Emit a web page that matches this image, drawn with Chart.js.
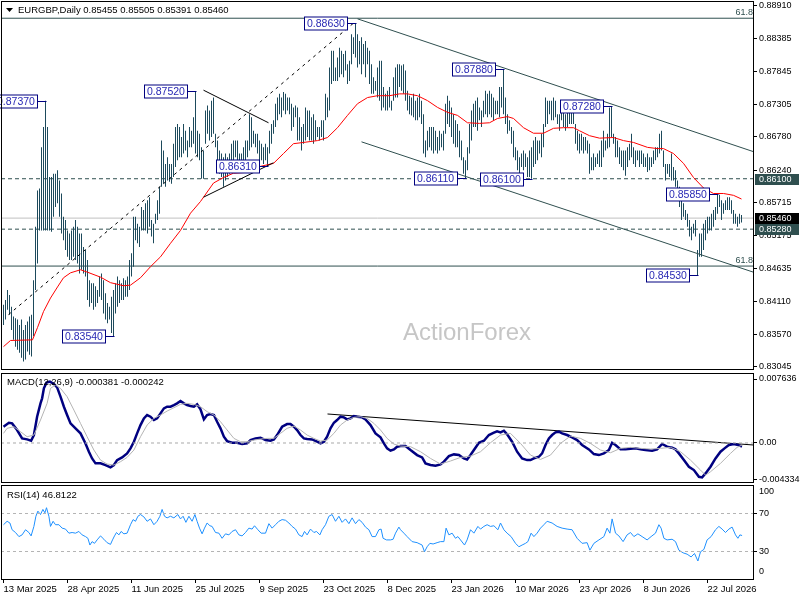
<!DOCTYPE html>
<html><head><meta charset="utf-8">
<script src="https://cdn.jsdelivr.net/npm/chart.js@4.4.1/dist/chart.umd.min.js"></script>
<style>
html,body{margin:0;padding:0;background:#fff;}
body{width:800px;height:600px;position:relative;overflow:hidden;}
canvas{position:absolute;left:0;}
</style></head>
<body>
<canvas id="c1" width="800" height="372" style="top:0px"></canvas>
<canvas id="c2" width="800" height="112" style="top:372px"></canvas>
<canvas id="c3" width="800" height="116" style="top:484px"></canvas>
<script>
// ---------------- DATA ----------------
const symbolName = 'EURGBP,Daily';
const lastOHLC = [0.85455, 0.85505, 0.85391, 0.85460];
// daily highs / lows in pips (x 1e-4), bar index 0 = 13 Mar 2025
const highs = [
8405,8413,8429,8421,8402,8386,8383,8381,8372,8381,
8364,8372,8378,8386,8389,8445,8532,8591,8594,8661,
8694,8737,8694,8613,8613,8618,8618,8624,8607,8586,
8548,8543,8526,8521,8526,8532,8543,8532,8521,8521,
8499,8494,8478,8445,8440,8440,8435,8429,8451,8456,
8445,8424,8408,8402,8418,8429,8440,8451,8445,8440,
8448,8445,8451,8478,8489,8548,8548,8537,8532,8564,
8559,8570,8575,8580,8543,8537,8553,8575,8597,8672,
8656,8634,8645,8634,8634,8667,8694,8699,8694,8678,
8699,8688,8672,8694,8688,8710,8752,8688,8683,8661,
8656,8721,8729,8721,8737,8742,8683,8672,8656,8651,
8645,8651,8645,8651,8667,8672,8672,8672,8651,8651,
8661,8672,8672,8715,8710,8688,8683,8683,8672,8667,
8661,8667,8661,8688,8699,8705,8732,8742,8748,8742,
8751,8748,8742,8742,8732,8726,8729,8726,8710,8694,
8699,8726,8721,8721,8710,8715,8705,8694,8694,8705,
8705,8748,8742,8791,8818,8818,8791,8807,8823,8818,
8813,8818,8796,8802,8845,8840,8863,8845,8834,8840,
8829,8834,8823,8818,8796,8775,8769,8791,8802,8802,
8759,8748,8753,8759,8737,8775,8791,8796,8796,8794,
8796,8786,8753,8745,8742,8748,8737,8742,8748,8737,
8715,8672,8688,8694,8694,8694,8688,8678,8688,8683,
8688,8732,8745,8737,8726,8715,8705,8699,8688,8672,
8645,8640,8661,8699,8721,8732,8737,8742,8726,8721,
8737,8753,8748,8753,8748,8742,8737,8737,8759,8759,
8788,8742,8715,8705,8694,8688,8661,8656,8645,8651,
8656,8651,8645,8656,8661,8672,8678,8672,8672,8683,
8699,8742,8737,8737,8737,8742,8737,8715,8715,8726,
8721,8715,8721,8721,8721,8726,8699,8688,8683,8683,
8678,8678,8672,8667,8645,8651,8645,8651,8656,8672,
8688,8672,8683,8726,8728,8683,8678,8672,8661,8656,
8656,8656,8661,8667,8683,8661,8656,8656,8656,8656,
8651,8645,8651,8645,8645,8656,8661,8661,8683,8688,
8656,8634,8634,8634,8651,8629,8624,8607,8597,8580,
8570,8559,8553,8543,8532,8537,8543,8494,8521,8521,
8537,8543,8548,8548,8553,8559,8564,8585,8584,8575,
8570,8575,8580,8580,8575,8559,8553,8548,8553,8551];
const lows = [
8372,8381,8397,8389,8364,8348,8337,8332,8327,8319,
8313,8316,8329,8324,8321,8354,8429,8472,8526,8526,
8526,8526,8526,8526,8524,8548,8564,8570,8548,8521,
8510,8494,8483,8478,8478,8483,8478,8472,8456,8462,
8456,8451,8413,8402,8408,8397,8402,8408,8418,8413,
8391,8381,8375,8381,8359,8354,8391,8402,8408,8413,
8413,8418,8418,8429,8451,8467,8510,8505,8499,8526,
8526,8526,8521,8532,8516,8505,8537,8543,8553,8597,
8602,8597,8607,8605,8602,8613,8629,8640,8645,8645,
8651,8656,8645,8661,8661,8667,8651,8645,8640,8610,
8610,8667,8683,8672,8678,8683,8661,8629,8618,8613,
8597,8607,8613,8618,8629,8629,8645,8634,8624,8629,
8634,8640,8645,8656,8661,8667,8661,8651,8640,8640,
8634,8640,8631,8651,8667,8683,8694,8705,8715,8710,
8721,8715,8721,8715,8688,8694,8710,8672,8672,8656,
8667,8672,8678,8672,8672,8667,8672,8678,8672,8678,
8672,8705,8710,8721,8764,8769,8769,8769,8775,8780,
8775,8786,8764,8769,8796,8813,8807,8791,8796,8780,
8796,8775,8796,8764,8748,8748,8753,8742,8737,8721,
8726,8721,8721,8726,8721,8737,8742,8742,8759,8753,
8748,8737,8721,8715,8713,8710,8705,8705,8710,8699,
8651,8645,8656,8661,8656,8651,8656,8651,8656,8661,
8656,8683,8699,8694,8678,8667,8661,8661,8645,8640,
8618,8611,8624,8651,8672,8694,8694,8688,8705,8694,
8710,8715,8710,8715,8710,8705,8715,8715,8710,8726,
8715,8699,8683,8688,8667,8645,8640,8624,8618,8629,
8624,8629,8613,8613,8610,8629,8634,8640,8651,8645,
8661,8694,8699,8715,8705,8705,8710,8699,8688,8705,
8694,8688,8694,8699,8699,8699,8667,8656,8651,8656,
8651,8656,8651,8618,8624,8624,8629,8634,8629,8629,
8645,8656,8659,8661,8678,8667,8645,8645,8634,8629,
8624,8615,8629,8640,8645,8634,8629,8640,8629,8634,
8629,8629,8621,8624,8629,8634,8640,8645,8651,8656,
8629,8607,8618,8613,8607,8607,8597,8575,8564,8543,
8548,8543,8532,8516,8510,8521,8516,8453,8483,8483,
8494,8510,8521,8526,8526,8532,8543,8553,8564,8543,
8553,8559,8559,8559,8553,8537,8537,8532,8537,8539];
// moving average (red) [bar, pips]
const maLine = [[0,8337],[3.5,8347],[14.5,8348],[17,8368],[20,8394],[23.5,8416],[27,8434],[30,8449],[33.5,8457],[38.5,8462],
[42,8458],[48.5,8450],[53.5,8441],[60,8436],[63.5,8437],[68.5,8449],[73.5,8467],[78.5,8483],[83.5,8505],[88.5,8526],
[93.5,8554],[98.5,8573],[105,8603],[110,8612],[115,8619],[120,8620],[127,8629],[135,8635],[140,8651],[145,8667],
[150,8669],[157,8672],[162,8677],[167,8693],[172,8713],[177,8732],[182,8742],[187,8745],[193,8745],[198,8748],
[202,8748],[207,8745],[212,8737],[217,8726],[222,8718],[227,8713],[232,8701],[238,8700],[243,8701],[247,8708],
[252,8711],[255,8708],[260,8693],[265,8684],[270,8684],[275,8692],[280,8693],[285,8693],[288,8688],[293,8680],
[298,8676],[305,8677],[310,8672],[315,8669],[322,8661],[327,8659],[330,8659],[335,8651],[340,8635],[345,8612],
[350,8595],[355,8586],[360,8586],[365,8583],[369,8577]];
// levels
const dashedLevels = [0.8610, 0.8528];
const currentPrice = 0.8546;
const fibLevels = [0.8871, 0.8468];
// trend lines [bar, price]
const channelUpper = [[177,0.8870],[375,0.8654]];
const channelLower = [[179,0.8670],[375,0.8458]];
const dottedTrend = [[2.5,0.8389],[175,0.8863]];
const triUpper = [[100,0.8754],[132.5,0.8701]];
const triLower = [[100,0.8580],[135,0.8636]];
// pivot labels
const pivotBars = [21,55,96,132,176,231,250,264,304,347,357];
const pivotPrices = [0.8737,0.8354,0.8752,0.8631,0.8863,0.8611,0.8788,0.8610,0.8728,0.8453,0.8585];
// main price axis tick labels
const yTickVals = [0.88910,0.88385,0.87845,0.87305,0.86780,0.86240,0.85715,0.85175,0.84635,0.84110,0.83570,0.83045];
// MACD (x 1e-4) [bar, value]
const macdMain = [[0,19.4],[2.7,24.2],[4.3,23.4],[6.8,15.5],[9.3,5.5],[11.8,4.3],[13.8,2.7],[15.2,9.5],[16.8,31.4],[18.5,47.3],[19.3,53.3],[20.2,65.2],[21.5,72.0],[23.2,73.2],[25.2,70.4],[26.8,66.4],[28.5,55.3],[30.2,43.3],[31.8,33.4],[33.5,23.4],[36,17.5],[38.5,11.5],[41,-0.5],[42.7,-10.4],[44.3,-18.4],[46,-24.3],[48.5,-24.3],[51,-26.3],[53.5,-29.1],[55.2,-26.3],[56.8,-20.4],[59.3,-17.2],[61.8,-12.4],[63.5,-6.4],[65.2,1.5],[66.8,11.5],[68.5,21.4],[70.2,29.4],[71.8,33.4],[73.5,31.4],[75.2,27.4],[76.8,29.4],[78.5,35.4],[80.2,41.3],[81.8,43.3],[83.5,43.3],[85.2,45.3],[86.8,47.3],[88.5,50.1],[90.2,47.3],[91.8,45.3],[93.5,44.1],[95.2,43.3],[96.8,46.1],[98.5,40.1],[100.2,28.2],[101.8,33.4],[103.5,34.6],[105.2,33.4],[106.8,25.4],[108.5,17.5],[110.2,7.5],[111.8,2.3],[114.3,0.3],[116.8,0.3],[119.3,-1.3],[121.8,-0.5],[123.5,3.5],[126,5.5],[128.5,6.3],[131,3.5],[133.5,2.7],[135.2,4.3],[136.8,9.5],[139.3,19.4],[141.8,22.6],[143.5,22.6],[145.2,19.4],[146.8,15.5],[148.5,9.5],[150.2,5.5],[151.8,4.7],[154.3,4.3],[156.8,1.5],[158.5,-0.5],[160.2,1.5],[161.8,7.5],[163.5,17.5],[165.2,24.2],[166.8,27.4],[168.5,31.4],[170.2,30.6],[171.8,28.2],[173.5,29.4],[175.2,32.2],[176.8,31.4],[179.3,30.6],[181,28.2],[183.5,21.4],[186,11.5],[188.5,6.7],[190.2,-0.5],[191.8,-6.4],[193.5,-9.2],[195.2,-7.6],[196.8,-4.4],[198.5,-3.6],[201,-3.6],[203.5,-8.4],[206.8,-14.4],[209.3,-17.2],[211,-24.3],[213.5,-26.3],[216,-27.1],[218.5,-25.5],[220.2,-22.3],[222.7,-15.6],[225.2,-13.6],[227.7,-14.4],[230.2,-18.4],[231.8,-19.6],[233.5,-14.4],[235.2,-8.4],[237.7,0.3],[240.2,2.7],[242.7,9.5],[245.2,12.3],[246.8,13.9],[248.5,12.7],[250.2,14.7],[251.8,10.3],[254.3,1.5],[256.8,-10.4],[259.3,-18.4],[261.8,-20.4],[263.5,-20.4],[265.2,-18.4],[267.7,-16.4],[269.3,-12.4],[271,-2.4],[272.7,5.5],[274.3,9.5],[276,12.7],[277.7,13.5],[279.3,11.5],[281.8,9.5],[284.3,6.7],[286.8,3.5],[289.3,-2.4],[292.7,-7.6],[295.2,-13.2],[297.7,-14.4],[300.2,-12.4],[302.7,-8.4],[304.3,0.3],[306,-2.4],[308.5,-7.6],[311,-7.6],[313.5,-6.8],[316,-6.4],[318.5,-7.6],[321,-8.4],[324.3,-9.2],[326.8,-7.6],[329.3,-1.2],[331.8,-4.4],[334.3,-5.6],[336,-7.6],[337.7,-12.4],[340.2,-20.4],[342.7,-28.3],[345.2,-32.3],[347.7,-40.3],[349.3,-41.0],[351,-36.3],[353.5,-28.3],[356,-18.4],[358.5,-10.4],[360.5,-6.4],[362.7,-2.4],[365.2,-1.2],[366.8,-2.0],[368.5,-3.6],[369.3,-3.8]];
const macdSignal = [[0,11.5],[1.8,17.5],[5.2,19.4],[8.5,13.5],[11.8,7.5],[15.2,9.5],[18.5,27.4],[21.8,47.3],[23.5,65.2],[26,69.2],[28.5,65.2],[31.8,55.3],[35.2,39.3],[38.5,23.4],[41.8,7.5],[45.2,-8.4],[48.5,-20.4],[51.8,-25.1],[55.2,-26.3],[58.5,-22.3],[61.8,-17.2],[65.2,-8.4],[68.5,7.5],[71.8,21.4],[75.2,29.4],[78.5,33.4],[81.8,38.1],[85.2,42.1],[88.5,46.1],[91.8,47.3],[95.2,46.1],[98.5,43.3],[101.8,37.4],[105.2,33.4],[108.5,25.4],[111.8,15.5],[115.2,5.5],[118.5,1.5],[121.8,1.5],[125.2,3.5],[128.5,4.7],[131.8,5.5],[135.2,5.5],[138.5,11.5],[141.8,17.5],[145.2,20.2],[148.5,15.5],[151.8,9.5],[155.2,5.5],[158.5,2.3],[161.8,3.5],[165.2,11.5],[168.5,21.4],[171.8,27.4],[175.2,30.6],[178.5,31.4],[181.8,29.4],[185.2,23.4],[188.5,15.5],[191.8,5.5],[195.2,-1.3],[198.5,-3.6],[203.5,-4.4],[208.5,-10.4],[213.5,-18.4],[218.5,-25.1],[223.5,-21.5],[228.5,-17.2],[233.5,-15.6],[238.5,-10.4],[243.5,0.3],[248.5,9.5],[253.5,11.5],[258.5,-0.5],[263.5,-14.4],[268.5,-19.6],[273.5,-14.4],[278.5,-0.5],[283.5,8.3],[288.5,5.5],[293.5,-0.5],[298.5,-8.4],[303.5,-11.6],[308.5,-6.4],[313.5,-5.2],[318.5,-6.4],[323.5,-7.2],[328.5,-6.4],[333.5,-5.2],[338.5,-10.4],[343.5,-20.4],[348.5,-32.3],[351,-38.3],[353.5,-34.3],[358.5,-24.3],[363.5,-12.4],[366.8,-5.2],[369.3,-2.4]];
const macdTrend = [[162,34.6],[375,-2.4]];
const macdTickVals = [0.007636, 0, -0.004334];
const macdTickText = ['0.007636', '0.00', '-0.004334'];
const macdLast = ['-0.000381', '-0.000242'];
// RSI(14) [bar, value]
const rsiLine = [[0,58.2],[1.8,61.8],[3.2,60.0],[4.3,52.9],[6,50.0],[7.7,45.7],[9.3,47.5],[11,52.9],[12.7,50.0],[13.8,46.4],[15.2,56.4],[16.2,67.1],[17.2,72.5],[18.5,68.9],[19.7,74.3],[20.7,70.7],[21.5,76.1],[22.7,67.1],[23.5,56.4],[24.8,61.8],[26,58.2],[27.7,58.2],[29.3,54.6],[31,53.6],[32.7,49.3],[34.3,50.0],[36,49.3],[37.7,51.1],[39.3,47.5],[41,45.7],[42.2,43.9],[43.2,36.8],[44.3,40.4],[45.5,38.6],[46.8,42.2],[48.5,46.4],[50.2,42.9],[51.8,39.3],[53.5,37.5],[54.5,42.2],[55.5,46.4],[56.5,50.0],[57.7,47.5],[58.8,51.1],[60.2,48.6],[61.8,49.3],[63.5,58.2],[64.8,63.6],[66,61.8],[67.2,67.1],[68.5,68.9],[70.2,66.4],[71.8,61.8],[73.5,64.3],[75.2,58.2],[76.8,61.8],[78.2,67.1],[79.3,74.3],[80.5,67.1],[81.8,65.4],[83.5,67.1],[85.2,65.4],[87.2,68.9],[88.5,64.3],[89.8,67.1],[91.2,60.7],[92.7,67.1],[94.3,61.8],[95.7,68.9],[96.8,61.8],[98,54.6],[99.3,48.6],[100.5,54.6],[101.8,60.0],[103.2,57.1],[104.3,56.4],[106,50.0],[107.7,49.3],[109.3,43.9],[111,48.6],[112.7,47.5],[114.3,51.1],[116,52.9],[117.7,47.5],[119.3,46.4],[121,50.0],[122.7,54.6],[124.3,53.6],[125.5,57.1],[127.2,52.9],[128.8,49.3],[131,49.3],[132.7,59.3],[134.3,54.6],[136,58.2],[137.7,61.8],[139.3,63.6],[141,62.9],[142.7,60.0],[144.3,56.4],[146,53.6],[147.7,47.5],[149.3,45.7],[150.5,51.1],[151.8,47.5],[153.5,53.6],[155.2,50.0],[156.5,51.1],[158.2,47.5],[159.3,52.9],[161,58.2],[162.7,67.1],[164.3,68.9],[166,61.8],[167.7,67.1],[169.3,60.7],[171,64.3],[172.7,59.3],[174.3,65.4],[176,59.3],[177.7,63.6],[179.3,60.7],[181,55.7],[182.7,52.9],[184.3,45.7],[186,45.7],[187.7,52.9],[188.8,53.6],[189.8,43.9],[191.5,42.2],[193.5,42.2],[194.8,42.9],[196,49.3],[197.7,55.7],[198.5,52.9],[200.2,49.3],[201.8,45.7],[204.3,40.4],[206.8,39.3],[209.3,36.8],[210.5,29.7],[211.8,35.0],[213.2,38.6],[214.8,37.9],[216.8,39.3],[218.5,40.4],[220.2,40.4],[221.3,54.6],[222.7,47.5],[224.3,49.3],[226,43.9],[227.2,45.7],[228.5,42.2],[230.5,36.8],[231.8,42.2],[233.5,52.9],[235.2,49.3],[237.2,56.4],[238.5,53.6],[240.2,56.4],[241.8,58.2],[243.5,56.4],[245.2,57.1],[247.2,52.9],[248.5,60.0],[250.2,52.9],[251.8,49.3],[253.8,45.7],[256,38.6],[257.7,35.0],[259.3,36.8],[261,38.6],[262.2,40.4],[263.8,49.3],[265.2,45.7],[266.8,49.3],[268.5,54.6],[270.2,58.2],[271.8,61.8],[274.3,60.0],[276.8,56.4],[279.3,54.6],[281.8,53.6],[284.3,52.9],[286.8,43.9],[289.3,38.6],[291.8,39.3],[293.2,31.4],[295.2,38.6],[297.7,42.2],[300.2,45.7],[301.8,54.6],[303.2,49.3],[304.3,64.3],[306,49.3],[307.7,46.4],[309.8,40.4],[311.8,47.5],[313.5,50.0],[315.2,45.7],[317.2,48.6],[319.3,45.7],[321.8,42.2],[323.8,45.7],[326,49.3],[327.7,58.2],[328.8,54.6],[330.2,43.9],[331.8,42.2],[334.3,42.9],[336,40.4],[337.7,31.4],[339.8,28.6],[341.8,27.2],[343.8,24.3],[345.5,27.9],[347.2,20.0],[348.5,29.7],[350.2,32.2],[351.8,42.2],[353.8,45.7],[356,52.9],[357.7,56.4],[359.3,53.6],[361,50.0],[362.7,53.6],[364.3,55.7],[366,47.5],[367.2,43.9],[368.2,47.5],[369.3,46.8]];
const rsiLevels = [70, 30];
const rsiLast = '46.8122';
// time axis
const dateBars = [0,32,64,96,128,160,192,224,256,288,320,352];
const dateLabels = ['13 Mar 2025','28 Apr 2025','11 Jun 2025','25 Jul 2025','9 Sep 2025','23 Oct 2025','8 Dec 2025','23 Jan 2026','10 Mar 2026','23 Apr 2026','8 Jun 2026','22 Jul 2026'];

// ---------------- RENDER ----------------
const F = "'Liberation Sans', Arial, sans-serif";
const X_MIN = -1.25, X_MAX = 375.25;
Chart.defaults.font.family = F;
Chart.defaults.color = '#000';
Chart.defaults.animation = false;
Chart.defaults.events = [];
Chart.defaults.plugins.legend.display = false;
Chart.defaults.plugins.tooltip.enabled = false;
Chart.defaults.elements.point.radius = 0;
Chart.defaults.elements.line.tension = 0;
Chart.defaults.elements.line.borderWidth = 1;

const pts = (arr, k) => arr.map(([x, y]) => ({x, y: y / k}));
const hline = v => [{x: X_MIN, y: v}, {x: X_MAX, y: v}];
const lineDs = (data, color, extra) => Object.assign({type: 'line', data, borderColor: color, borderWidth: 1, pointRadius: 0, fill: false}, extra || {});

function frame(c) {
  const {ctx, chartArea: a} = c;
  ctx.save(); ctx.strokeStyle = '#000'; ctx.lineWidth = 1;
  ctx.strokeRect(a.left + 0.5, a.top + 0.5, a.right - a.left - 1, a.bottom - a.top - 1);
  ctx.restore();
}
function fixY(width) {
  return function (s) { s.width = width; s.paddingTop = 0; s.paddingBottom = 0; };
}
const xHidden = {type: 'linear', min: X_MIN, max: X_MAX, display: false, offset: false};

// ---- main price chart ----
const mainPlugin = {
  id: 'mainDeco',
  beforeDatasetsDraw(c) {
    const ctx = c.ctx;
    ctx.save();
    ctx.font = '24px ' + F; ctx.fillStyle = '#c6c6c6'; ctx.textBaseline = 'alphabetic'; ctx.textAlign = 'left';
    ctx.fillText('ActionForex', 403, 340);
    ctx.restore();
  },
  afterDatasetsDraw(c) {
    const {ctx, scales: {x, y}, chartArea: a} = c;
    ctx.save();
    ctx.font = '9px ' + F; ctx.fillStyle = '#2f4f4f'; ctx.textAlign = 'right'; ctx.textBaseline = 'bottom';
    fibLevels.forEach(v => ctx.fillText('61.8', a.right - 1, y.getPixelForValue(v) - 1));
    ctx.font = '10.5px ' + F; ctx.textBaseline = 'middle'; ctx.textAlign = 'left';
    pivotBars.forEach((b, k) => {
      const p = pivotPrices[k];
      const px = Math.round(x.getPixelForValue(b)) + 0.5;
      const py = Math.round(y.getPixelForValue(p)) + 0.5;
      const t = p.toFixed(5);
      const w = Math.ceil(ctx.measureText(t).width) + 5;
      const right = px - 9, left = right - w;
      ctx.fillStyle = '#fff'; ctx.fillRect(left, py - 6.5, w, 13);
      ctx.strokeStyle = '#000080'; ctx.lineWidth = 1;
      ctx.strokeRect(left, py - 6.5, w, 13);
      ctx.beginPath(); ctx.moveTo(right, py); ctx.lineTo(px, py); ctx.stroke();
      ctx.fillStyle = '#2828b4'; ctx.fillText(t, left + 2.5, py + 0.5);
    });
    ctx.fillStyle = '#000';
    ctx.beginPath(); ctx.moveTo(6, 8); ctx.lineTo(13, 8); ctx.lineTo(9.5, 12); ctx.closePath(); ctx.fill();
    ctx.font = '9.5px ' + F; ctx.textBaseline = 'middle';
    ctx.fillText(symbolName + ' ' + lastOHLC.map(v => v.toFixed(5)).join(' '), 18, 10.5);
    ctx.restore();
  },
  afterDraw(c) {
    frame(c);
    const {ctx, scales: {y}, chartArea: a} = c;
    ctx.save();
    ctx.font = '9px ' + F; ctx.textBaseline = 'middle'; ctx.textAlign = 'left';
    const boxes = [[dashedLevels[0], '#2f4f4f'], [dashedLevels[1], '#2f4f4f'], [currentPrice, '#000']];
    boxes.forEach(([v, bg]) => {
      const py = Math.round(y.getPixelForValue(v));
      ctx.fillStyle = bg; ctx.fillRect(a.right + 1, py - 5, 44, 11);
      ctx.fillStyle = '#fff'; ctx.fillText(v.toFixed(5), a.right + 5, py + 0.5);
    });
    ctx.restore();
  }
};

new Chart(document.getElementById('c1'), {
  type: 'bar',
  data: {
    datasets: [
      lineDs(hline(fibLevels[0]), '#2f4f4f', {order: 9}),
      lineDs(hline(fibLevels[1]), '#2f4f4f', {order: 9}),
      lineDs(hline(currentPrice), '#c0c0c0', {order: 9}),
      lineDs(hline(dashedLevels[0]), '#2f4f4f', {order: 9, borderDash: [4, 3]}),
      lineDs(hline(dashedLevels[1]), '#2f4f4f', {order: 9, borderDash: [4, 3]}),
      {type: 'bar', data: highs.map((h, i) => ({x: i, y: [lows[i] / 1e4, h / 1e4]})),
       backgroundColor: '#1d4a5c', barThickness: 1, borderWidth: 0, inflateAmount: 0, order: 5},
      lineDs(pts(maLine, 1e4), '#ff0000', {order: 2}),
      lineDs(pts(channelUpper, 1), '#2f4f4f', {order: 1}),
      lineDs(pts(channelLower, 1), '#2f4f4f', {order: 1}),
      lineDs(pts(dottedTrend, 1), '#000', {order: 1, borderDash: [3, 4]}),
      lineDs(pts(triUpper, 1), '#000', {order: 1}),
      lineDs(pts(triLower, 1), '#000', {order: 1})
    ]
  },
  options: {
    responsive: false, devicePixelRatio: 1,
    layout: {padding: {left: 1, top: 1, right: 0, bottom: 2}},
    scales: {
      x: xHidden,
      y: {type: 'linear', position: 'right', min: 0.8299, max: 0.8899,
        afterFit: fixY(46),
        afterBuildTicks(s) { s.ticks = yTickVals.map(v => ({value: v})); },
        ticks: {callback: v => Number(v).toFixed(5), font: {size: 9}, padding: 2, color: '#000', autoSkip: false},
        grid: {drawOnChartArea: false, tickLength: 3, color: '#000'},
        border: {display: false}}
    }
  },
  plugins: [mainPlugin]
});

// ---- MACD ----
new Chart(document.getElementById('c2'), {
  type: 'line',
  data: {
    datasets: [
      lineDs(hline(0), '#a8a8a8', {borderDash: [3, 3]}),
      lineDs(pts(macdSignal, 1e4), '#b4b4b4'),
      lineDs(pts(macdMain, 1e4), '#000080', {borderWidth: 2.5}),
      lineDs(pts(macdTrend, 1e4), '#000')
    ]
  },
  options: {
    responsive: false, devicePixelRatio: 1,
    layout: {padding: {left: 1, top: 1, right: 0, bottom: 1}},
    scales: {
      x: xHidden,
      y: {type: 'linear', position: 'right', min: -0.004773, max: 0.008352,
        afterFit: fixY(46),
        afterBuildTicks(s) { s.ticks = macdTickVals.map(v => ({value: v})); },
        ticks: {callback: (v, i) => macdTickText[i], font: {size: 9}, padding: 2, color: '#000', autoSkip: false},
        grid: {drawOnChartArea: false, tickLength: 3, color: '#000'},
        border: {display: false}}
    }
  },
  plugins: [{id: 'macdDeco', afterDraw(c) {
    frame(c);
    const ctx = c.ctx; ctx.save();
    ctx.font = '9.5px ' + F; ctx.fillStyle = '#000'; ctx.textBaseline = 'middle'; ctx.textAlign = 'left';
    ctx.fillText('MACD(12,26,9) ' + macdLast.join(' '), 7, 10.5);
    ctx.restore();
  }}]
});

// ---- RSI ----
new Chart(document.getElementById('c3'), {
  type: 'line',
  data: {
    datasets: [
      lineDs(hline(rsiLevels[0]), '#b4b4b4', {borderDash: [3, 3]}),
      lineDs(hline(rsiLevels[1]), '#b4b4b4', {borderDash: [3, 3]}),
      lineDs(pts(rsiLine, 1), '#1e90ff')
    ]
  },
  options: {
    responsive: false, devicePixelRatio: 1,
    layout: {padding: {left: 1, top: 1, right: 0, bottom: 0}},
    scales: {
      x: {type: 'linear', min: X_MIN, max: X_MAX, position: 'bottom', offset: false,
        afterFit(s) { s.height = 20; s.paddingLeft = 0; s.paddingRight = 0; },
        afterBuildTicks(s) { s.ticks = dateBars.map(v => ({value: v})); },
        ticks: {callback: (v, i) => dateLabels[i], font: {size: 9.5}, padding: 1, color: '#000',
          autoSkip: false, maxRotation: 0, minRotation: 0, align: 'start'},
        grid: {drawOnChartArea: false, tickLength: 3, color: '#000'},
        border: {display: false}},
      y: {type: 'linear', position: 'right', min: 0, max: 100,
        afterFit: fixY(46),
        afterBuildTicks(s) { s.ticks = rsiLevels.map(v => ({value: v})); },
        ticks: {callback: v => String(v), font: {size: 9}, padding: 2, color: '#000', autoSkip: false},
        grid: {drawOnChartArea: false, tickLength: 3, color: '#000'},
        border: {display: false}}
    }
  },
  plugins: [{id: 'rsiDeco', afterDraw(c) {
    frame(c);
    const {ctx, chartArea: a} = c; ctx.save();
    ctx.font = '9.5px ' + F; ctx.fillStyle = '#000'; ctx.textBaseline = 'middle'; ctx.textAlign = 'left';
    ctx.fillText('RSI(14) ' + rsiLast, 7, 11);
    ctx.font = '9px ' + F;
    ctx.fillText('100', a.right + 5, a.top + 7);
    ctx.fillText('0', a.right + 5, a.bottom - 8);
    ctx.restore();
  }}]
});
</script>
</body></html>
